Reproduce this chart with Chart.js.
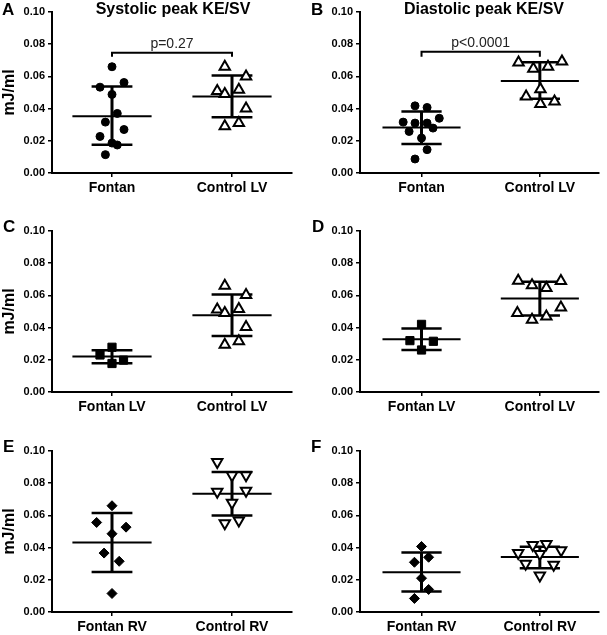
<!DOCTYPE html>
<html>
<head>
<meta charset="utf-8">
<script src="https://cdn.jsdelivr.net/npm/chart.js@4.4.0/dist/chart.umd.min.js"></script>
<style>
  body { margin: 0; background: #fff; }
  #wrap { position: relative; width: 607px; height: 635px; overflow: hidden; background: #fff;
          font-family: "Liberation Sans", Arial, sans-serif; color: #000; }
  canvas { position: absolute; }
  .lab { position: absolute; font-weight: bold; font-size: 17px; line-height: 1; }
  .ttl { position: absolute; font-weight: bold; font-size: 16px; line-height: 1; width: 220px; text-align: center; }
</style>
</head>
<body>
<div id="wrap">
  <canvas id="cA" width="300" height="203" style="left:0;top:0"></canvas>
  <canvas id="cB" width="307" height="203" style="left:300px;top:0"></canvas>
  <canvas id="cC" width="300" height="203" style="left:0;top:219px"></canvas>
  <canvas id="cD" width="307" height="203" style="left:300px;top:219px"></canvas>
  <canvas id="cE" width="300" height="203" style="left:0;top:439px"></canvas>
  <canvas id="cF" width="307" height="203" style="left:300px;top:439px"></canvas>

  <div class="lab" style="left:2px;top:1px">A</div>
  <div class="lab" style="left:311px;top:1px">B</div>
  <div class="lab" style="left:3px;top:218px">C</div>
  <div class="lab" style="left:312px;top:218px">D</div>
  <div class="lab" style="left:3px;top:438px">E</div>
  <div class="lab" style="left:311px;top:438px">F</div>

  <div class="ttl" style="left:63px;top:1px">Systolic peak KE/SV</div>
  <div class="ttl" style="left:374px;top:1px">Diastolic peak KE/SV</div>
</div>

<script>
// tick labels / categories
const yTicks = [0, 0.02, 0.04, 0.06, 0.08, 0.10];
const catsA = ["Fontan", "Control LV"];
const catsC = ["Fontan LV", "Control LV"];
const catsE = ["Fontan RV", "Control RV"];

// A: systolic peak KE/SV
const aFontan = [0.066, 0.0533, 0.0562, 0.0488, 0.037, 0.0316, 0.027, 0.0227, 0.0186, 0.0174, 0.0114];
const aFontanJit = [0, -0.10, 0.10, 0, 0.044, -0.055, 0.10, -0.10, 0, 0.044, -0.055];
const aCtrl = [0.066, 0.060, 0.051, 0.049, 0.0517, 0.040, 0.029, 0.031];
const aCtrlJit = [-0.06, 0.117, -0.123, -0.06, 0.057, 0.117, -0.06, 0.057];
const aStats = [[0.0353, 0.0176, 0.0537], [0.0475, 0.0347, 0.0605]]; // mean, lower, upper
const aBracket = [0.0722, 0.0747];
const aP = "p=0.27";

// B: diastolic peak KE/SV
const bFontan = [0.0417, 0.0407, 0.0316, 0.031, 0.031, 0.034, 0.0279, 0.0258, 0.0217, 0.0145, 0.0087];
const bFontanJit = [-0.055, 0.047, -0.155, -0.055, 0.047, 0.15, 0.097, -0.105, 0, 0.047, -0.055];
const bCtrl = [0.0686, 0.0692, 0.0647, 0.066, 0.052, 0.0475, 0.0428, 0.0444];
const bCtrlJit = [-0.18, 0.187, -0.055, 0.069, 0.005, -0.116, 0.005, 0.124];
const bStats = [[0.0283, 0.018, 0.0382], [0.0572, 0.0461, 0.0688]];
const bBracket = [0.0722, 0.0753];
const bP = "p<0.0001";

// C: systolic, Fontan LV
const cFontan = [0.0278, 0.0230, 0.0198, 0.0177];
const cFontanJit = [0, -0.10, 0.096, 0];
const cCtrl = [0.066, 0.0603, 0.0512, 0.049, 0.0516, 0.0403, 0.0294, 0.0315];
const cCtrlJit = [-0.06, 0.117, -0.123, -0.06, 0.057, 0.117, -0.06, 0.057];
const cStats = [[0.022, 0.0179, 0.0259], [0.0477, 0.0348, 0.0605]];

// D: diastolic, Fontan LV
const dFontan = [0.042, 0.0319, 0.0315, 0.0261];
const dFontanJit = [0, -0.098, 0.10, 0];
const dCtrl = [0.0691, 0.0663, 0.0646, 0.0689, 0.049, 0.0449, 0.0469, 0.0525];
const dCtrlJit = [-0.183, -0.066, 0.055, 0.178, -0.19, -0.066, 0.055, 0.178];
const dStats = [[0.0327, 0.0261, 0.0395], [0.058, 0.0475, 0.0685]];

// E: systolic, RV
const eFontan = [0.066, 0.0556, 0.0527, 0.0486, 0.0366, 0.0315, 0.0115];
const eFontanJit = [0, -0.128, 0.117, 0, -0.066, 0.06, 0];
const eCtrl = [0.0932, 0.085, 0.085, 0.0747, 0.0753, 0.0679, 0.0551, 0.0568];
const eCtrlJit = [-0.123, 0, 0.117, -0.123, 0.117, 0, -0.06, 0.057];
const eStats = [[0.0432, 0.0249, 0.0615], [0.0735, 0.0599, 0.087]];

// F: diastolic, RV
const fFontan = [0.0407, 0.034, 0.0309, 0.021, 0.014, 0.0084];
const fFontanJit = [0, 0.06, -0.06, 0, 0.06, -0.06];
const fCtrl = [0.0416, 0.0422, 0.0366, 0.036, 0.0383, 0.030, 0.0294, 0.0226];
const fCtrlJit = [-0.06, 0.055, -0.183, 0, 0.18, -0.12, 0.117, 0];
const fStats = [[0.0247, 0.0128, 0.037], [0.0342, 0.0272, 0.0405]];

Chart.defaults.font.family = '"Liberation Sans", Arial, sans-serif';
Chart.defaults.color = "#000";
Chart.defaults.animation = false;

const dot = { pointStyle: "circle", radius: 4, bg: "#000" };
const tri = { pointStyle: "triangle", radius: 6, bg: "#fff" };
const sq = { pointStyle: "rect", radius: 5.8, bg: "#000" };
const dia = { pointStyle: "rectRot", radius: 5, bg: "#000" };
const triDown = { pointStyle: "triangle", radius: 6, bg: "#fff", rot: 180 };

function lineSet(d, w) {
  return { data: d, showLine: true, borderColor: "#000", borderWidth: w, pointRadius: 0, order: 2 };
}

function groupSets(c, ys, jit, st, mk) {
  const [mean, lo, hi] = st;
  return [
    {
      data: ys.map((y, i) => ({ x: c + jit[i], y })),
      pointStyle: mk.pointStyle, pointRadius: mk.radius, pointRotation: mk.rot || 0,
      pointBackgroundColor: mk.bg, pointBorderColor: "#000", pointBorderWidth: mk.bg === "#fff" ? 2 : 1,
      order: 1
    },
    lineSet([{ x: c - 0.33, y: mean }, { x: c + 0.33, y: mean }], 2),
    lineSet([{ x: c - 0.17, y: lo }, { x: c + 0.17, y: lo }], 2.5),
    lineSet([{ x: c - 0.17, y: hi }, { x: c + 0.17, y: hi }], 2.5),
    lineSet([{ x: c, y: lo }, { x: c, y: hi }], 3)
  ];
}

const pText = {
  id: "pText",
  afterDatasetsDraw(chart, args, opts) {
    if (!opts.text) return;
    const { ctx, scales } = chart;
    ctx.save();
    ctx.font = '14px "Liberation Sans", Arial, sans-serif';
    ctx.fillStyle = "#222";
    ctx.textAlign = "center";
    ctx.textBaseline = "alphabetic";
    ctx.fillText(opts.text, scales.x.getPixelForValue(1.5), scales.y.getPixelForValue(opts.y) - 5);
    ctx.restore();
  }
};

function makePanel(id, cats, fontanSets, ctrlSets, left, yTitle, bracket, pLabel) {
  const right = left ? 4 : 3;
  const datasets = [...fontanSets, ...ctrlSets];
  if (bracket) {
    datasets.push(lineSet([
      { x: 1, y: bracket[0] }, { x: 1, y: bracket[1] },
      { x: 2, y: bracket[1] }, { x: 2, y: bracket[0] }
    ], 2));
  }
  new Chart(document.getElementById(id), {
    type: "scatter",
    data: { datasets },
    plugins: [pText],
    options: {
      responsive: false,
      devicePixelRatio: 1,
      layout: { padding: { top: 12, right: right, bottom: 0, left: 0 } },
      plugins: {
        legend: { display: false },
        tooltip: { enabled: false },
        pText: { text: pLabel, y: bracket ? bracket[1] : 0 }
      },
      scales: {
        x: {
          type: "linear",
          min: left ? 0.5 : 0.48,
          max: 2.5,
          afterBuildTicks: s => { s.ticks = [{ value: 1 }, { value: 2 }]; },
          afterFit: s => { s.height = 30; },
          ticks: {
            callback: v => cats[v - 1],
            font: { size: 14, weight: "bold" },
            padding: 3,
            maxRotation: 0
          },
          grid: { display: true, drawOnChartArea: false, drawTicks: true, tickLength: 4, color: "#000", lineWidth: 1.5 },
          border: { display: true, color: "#000", width: 2 }
        },
        y: {
          min: 0,
          max: 0.1,
          afterBuildTicks: s => { s.ticks = yTicks.map(v => ({ value: v })); },
          afterFit: s => { s.width = left ? 52 : 60; },
          ticks: {
            callback: v => v.toFixed(2),
            font: { size: 11, weight: "bold" },
            padding: 3
          },
          title: {
            display: yTitle,
            text: "mJ/ml",
            font: { size: 16, weight: "bold" },
            padding: { top: 0, bottom: 0 }
          },
          grid: { display: true, drawOnChartArea: false, drawTicks: true, tickLength: 4, color: "#000", lineWidth: 1.5 },
          border: { display: true, color: "#000", width: 2 }
        }
      }
    }
  });
}

makePanel("cA", catsA, groupSets(1, aFontan, aFontanJit, aStats[0], dot), groupSets(2, aCtrl, aCtrlJit, aStats[1], tri), true, true, aBracket, aP);
makePanel("cB", catsA, groupSets(1, bFontan, bFontanJit, bStats[0], dot), groupSets(2, bCtrl, bCtrlJit, bStats[1], tri), false, false, bBracket, bP);
makePanel("cC", catsC, groupSets(1, cFontan, cFontanJit, cStats[0], sq), groupSets(2, cCtrl, cCtrlJit, cStats[1], tri), true, true, null, null);
makePanel("cD", catsC, groupSets(1, dFontan, dFontanJit, dStats[0], sq), groupSets(2, dCtrl, dCtrlJit, dStats[1], tri), false, false, null, null);
makePanel("cE", catsE, groupSets(1, eFontan, eFontanJit, eStats[0], dia), groupSets(2, eCtrl, eCtrlJit, eStats[1], triDown), true, true, null, null);
makePanel("cF", catsE, groupSets(1, fFontan, fFontanJit, fStats[0], dia), groupSets(2, fCtrl, fCtrlJit, fStats[1], triDown), false, false, null, null);
</script>
</body>
</html>
